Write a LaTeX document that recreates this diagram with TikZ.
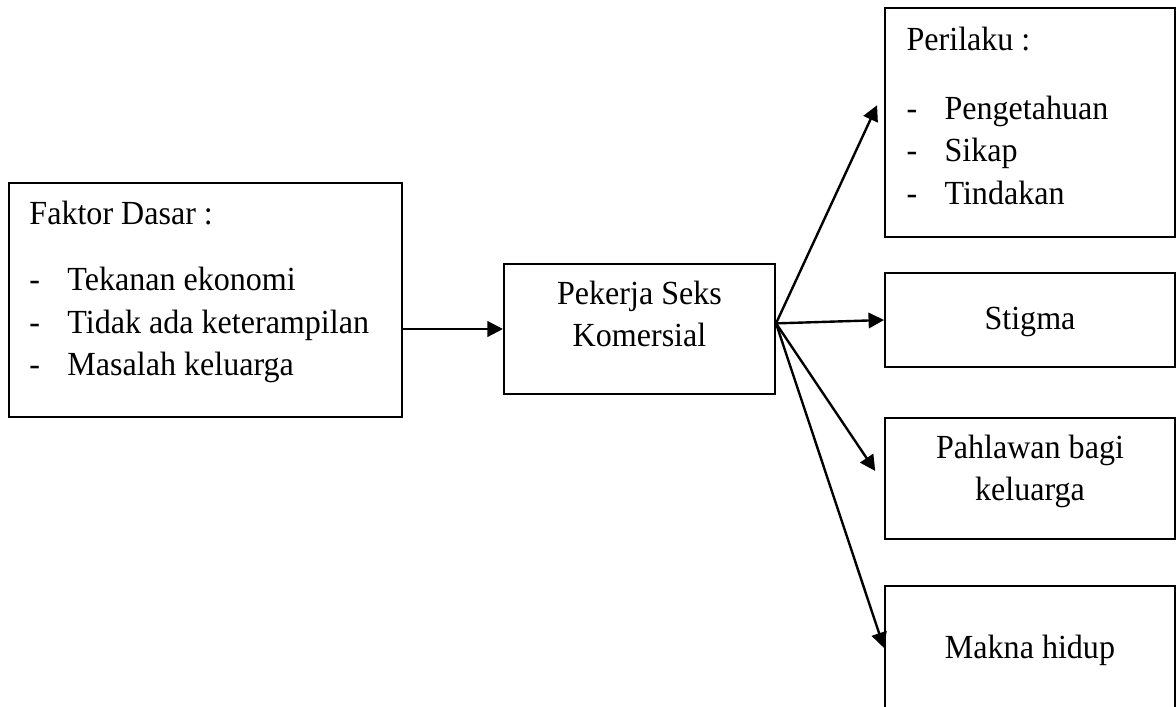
\documentclass[tikz,border=0pt]{standalone}
\usepackage{fontspec}
\setmainfont[FakeStretch=0.95]{Liberation Serif}
\usepackage{tikz}
\usetikzlibrary{arrows.meta,calc}

\newcommand{\itm}{\makebox[13.5pt][l]{-}}

\begin{document}
\begin{tikzpicture}[x=0.0125cm, y=-0.0125cm,
    box/.style={draw, line width=0.7pt, inner sep=0pt},
    txt/.style={inner sep=0pt, font=\fontsize{12}{15.1}\selectfont},
    arr/.style={line width=0.85pt, -{Triangle[length=5.5pt,width=5.5pt]}}]
			\useasboundingbox (0,0) rectangle (1176,706);
			%boxes
			\node[box, minimum width=139.8pt, minimum height=83.2pt] (fd) at (205.5,300) {};
			\node[box, minimum width=96.4pt, minimum height=46.2pt] (pk) at (639.5,329) {};
			\node[box, minimum width=103.1pt, minimum height=81.4pt] (per) at (1030,122.5) {};
			\node[box, minimum width=103.1pt, minimum height=33.4pt] (stg) at (1030,320) {};
			\node[box, minimum width=103.1pt, minimum height=43pt] (phl) at (1030,478.5) {};
			\node[box, minimum width=103.1pt, minimum height=44.1pt] (mkn) at (1030,648) {};
			%texts
			\node[txt, anchor=north west, align=left] (fdtxt) at ($(fd.north west)+(21,18)$) {Faktor Dasar :\\[8.7pt] \itm Tekanan ekonomi\\ \itm Tidak ada keterampilan\\ \itm Masalah keluarga};
			\node[txt, anchor=north, align=center] (pktxt) at ($(pk.north)+(0,17)$) {Pekerja Seks\\ Komersial};
			\node[txt, anchor=north west, align=left] (pertxt) at ($(per.north west)+(22,19)$) {Perilaku :\\[9.6pt] \itm Pengetahuan\\ \itm Sikap\\ \itm Tindakan};
			\node[txt, anchor=base] (stgtxt) at ($(stg.center)+(0,9)$) {Stigma};
			\node[txt, anchor=north, align=center] (phltxt) at ($(phl.north)+(0,17)$) {Pahlawan bagi\\ keluarga};
			\node[txt, anchor=base] (mkntxt) at ($(mkn.center)+(0,10)$) {Makna hidup};
			%arrows
			\coordinate (hub) at ([yshift=2pt]pk.east);
			\draw[arr] (fd.east |- pk.west) -- (pk.west);
			\draw[arr, shorten >=5.9pt] (hub) -- ($(per.north west)!0.36!(per.south west)$);
			\draw[arr] (hub) -- (stg.west);
			\draw[arr, shorten >=5.6pt] (hub) -- ($(phl.north west)!0.545!(phl.south west)$);
			\draw[arr] (hub) -- (mkn.west);
		\end{tikzpicture}
\end{document}
